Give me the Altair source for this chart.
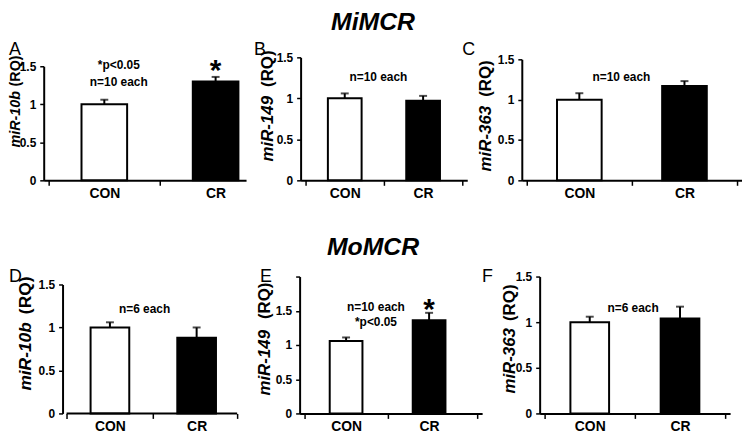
import altair as alt
import pandas as pd

# ---------------- data ----------------
groups = ["CON", "CR"]
group_pos = [0.5, 1.5]
panel_letters = ["A", "B", "C", "D", "E", "F"]
mirna_names = ["miR-10b", "miR-149", "miR-363", "miR-10b", "miR-149", "miR-363"]
con_mean = [1.00, 1.00, 1.00, 1.00, 1.06, 1.00]
con_sem = [0.06, 0.06, 0.08, 0.06, 0.05, 0.06]
cr_mean = [1.30, 0.97, 1.17, 0.88, 1.36, 1.04]
cr_sem = [0.06, 0.06, 0.06, 0.12, 0.11, 0.13]
notes = [["*p<0.05", "n=10 each"], ["n=10 each"], ["n=10 each"],
         ["n=6 each"], ["n=10 each", "*p<0.05"], ["n=6 each"]]
significant = [True, False, False, False, True, False]
y_max = [1.5, 1.5, 1.5, 1.5, 2.0, 1.5]
y_ticks = [[0, 0.5, 1, 1.5], [0, 0.5, 1, 1.5], [0, 0.5, 1, 1.5],
           [0, 0.5, 1, 1.5], [0, 0.5, 1, 1.5, 2], [0, 0.5, 1, 1.5]]
row_titles = ["MiMCR", "MoMCR"]

# ---------------- layout / styling ----------------
FONT = "Liberation Sans"
layout = [
    dict(w=204, x0=0, xmax=1.729, endtick=False, yoff=0, h=126, ytop=11, bw=46, lx=-35, ly=0, tx=-28, tb=93,
         tt=0, tfs=14.5, nx=0.63, ny=[1.51, 1.29], sdy=3),
    dict(w=168, x0=0, xmax=2.0, endtick=True, yoff=0, h=126, ytop=2, bw=34, lx=-47, ly=0, tx=-33, tb=107,
         tt=-5, tfs=17, nx=0.93, ny=[1.26], sdy=4, title=(73, -26)),
    dict(w=222, x0=0, xmax=2.0, endtick=True, yoff=0, h=126, ytop=4, bw=45, lx=-60, ly=0, tx=-36, tb=117,
         tt=5, tfs=17, nx=0.90, ny=[1.28], sdy=4),
    dict(w=200, x0=-0.2065, xmax=1.967, endtick=True, yoff=-19, h=140, ytop=10, bw=39, lx=-35, ly=7, tx=-18,
         tb=117, tt=2, tfs=17.5, nx=0.90, ny=[1.21], sdy=4),
    dict(w=184, x0=0, xmax=2.079, endtick=True, yoff=0, h=140, ytop=2, bw=33, lx=-40, ly=7, tx=-34.5, tb=122,
         tt=8, tfs=17, nx=0.86, ny=[1.55, 1.33], sdy=6, title=(74, -20)),
    dict(w=192, x0=0, xmax=2.0, endtick=True, yoff=0, h=140, ytop=2, bw=39, lx=-58, ly=7, tx=-30, tb=120,
         tt=10, tfs=17, nx=0.98, ny=[1.16], sdy=4),
]


def x_enc(field, L):
    vals = [v for v in [0, 0.5, 1, 1.5] if v < L["xmax"]]
    if L["endtick"]:
        vals = vals + [L["xmax"]]
    return alt.X(
        field,
        type="quantitative",
        title=None,
        scale=alt.Scale(domain=[L["x0"], L["xmax"]], nice=False, zero=False),
        axis=alt.Axis(
            values=vals,
            grid=False,
            domain=L["x0"] == 0,
            labelExpr="datum.value == 0.5 ? 'CON' : (datum.value == 1.5 ? 'CR' : '')",
            tickOpacity={"condition": {"test": "datum.value == 0.5 || datum.value == 1.5", "value": 0}, "value": 1},
            labelOverlap=False,
            labelFlush=False,
            domainColor="black", domainWidth=2,
            tickColor="black", tickWidth=1.5, tickSize=5,
            labelFont=FONT, labelFontSize=14, labelFontWeight="bold",
            labelColor="black", labelPadding=1,
        ),
    )


def y_enc(field, i, L):
    return alt.Y(
        field,
        type="quantitative",
        title=None,
        scale=alt.Scale(domain=[0, y_max[i]], range=[L["h"], L["ytop"]], nice=False, zero=True),
        axis=alt.Axis(
            values=y_ticks[i],
            format="~g",
            labelExpr="datum.value >= 2 ? '' : datum.label",
            grid=False,
            offset=L["yoff"],
            labelOverlap=False,
            labelFlush=False,
            domainColor="black", domainWidth=2,
            tickColor="black", tickWidth=1.5, tickSize=4,
            labelFont=FONT, labelFontSize=12, labelFontWeight="bold",
            labelColor="black", labelPadding=4,
        ),
    )


def panel(i, row_title=None):
    L = layout[i]
    df = pd.DataFrame({
        "group": groups,
        "pos": group_pos,
        "mean": [con_mean[i], cr_mean[i]],
        "sem": [con_sem[i], cr_sem[i]],
    })
    df["hi"] = df["mean"] + df["sem"]

    bars = alt.Chart(df).mark_bar(orient="vertical", size=L["bw"], stroke="black", strokeWidth=2).encode(
        x=x_enc("pos", L),
        y=y_enc("mean", i, L),
        fill=alt.Fill("group:N", scale=alt.Scale(domain=groups, range=["white", "black"]), legend=None),
    )
    err = alt.Chart(df).mark_rule(color="black", strokeWidth=2).encode(
        x=x_enc("pos", L), y=y_enc("mean", i, L), y2="hi:Q"
    )
    caps = alt.Chart(df).mark_tick(orient="horizontal", size=8, thickness=2, color="black").encode(
        x=x_enc("pos", L), y=y_enc("hi", i, L)
    )

    note_df = pd.DataFrame({"t": notes[i], "nx": [L["nx"]] * len(notes[i]), "ny": L["ny"]})
    note = alt.Chart(note_df).mark_text(font=FONT, fontSize=12, fontWeight="bold", color="black",
                                        align="center", baseline="middle").encode(
        x=x_enc("nx", L), y=y_enc("ny", i, L), text="t:N"
    )

    layers = [bars, err, caps, note]

    if L["x0"] != 0:
        # x-axis baseline starting at the y axis
        base_df = pd.DataFrame({"a": [0.0], "b": [L["xmax"]], "z": [0.0]})
        base = alt.Chart(base_df).mark_rule(color="black", strokeWidth=2).encode(
            x=x_enc("a", L), x2="b:Q", y=y_enc("z", i, L)
        )
        layers.append(base)

    if significant[i]:
        star_df = df[df["group"] == "CR"]
        star = alt.Chart(star_df).mark_text(text="*", font=FONT, fontSize=30, fontWeight="bold",
                                            color="black", align="center", baseline="alphabetic",
                                            dy=L["sdy"]).encode(
            x=x_enc("pos", L), y=y_enc("hi", i, L)
        )
        layers.append(star)

    lab_df = pd.DataFrame({"t": [panel_letters[i]]})
    letter = alt.Chart(lab_df).mark_text(font=FONT, fontSize=18, color="black", align="left",
                                         baseline="alphabetic").encode(
        text="t:N", x=alt.value(L["lx"]), y=alt.value(L["ly"])
    )
    t1_df = pd.DataFrame({"t": [mirna_names[i]]})
    t1 = alt.Chart(t1_df).mark_text(font=FONT, fontSize=L["tfs"], fontWeight="bold", fontStyle="italic",
                                    color="black", angle=270, align="left", baseline="middle").encode(
        text="t:N", x=alt.value(L["tx"]), y=alt.value(L["tb"])
    )
    t2_df = pd.DataFrame({"t": ["(RQ)"]})
    t2 = alt.Chart(t2_df).mark_text(font=FONT, fontSize=L["tfs"], fontWeight="bold",
                                    color="black", angle=270, align="right", baseline="middle").encode(
        text="t:N", x=alt.value(L["tx"]), y=alt.value(L["tt"])
    )
    layers += [letter, t1, t2]

    if row_title is not None:
        rt_df = pd.DataFrame({"t": [row_title]})
        rt = alt.Chart(rt_df).mark_text(font=FONT, fontSize=25, fontWeight="bold", fontStyle="italic",
                                        color="black", align="center", baseline="alphabetic").encode(
            text="t:N", x=alt.value(L["title"][0]), y=alt.value(L["title"][1])
        )
        layers.append(rt)

    return alt.layer(*layers).properties(width=L["w"], height=L["h"])


row1 = alt.hconcat(panel(0), panel(1, row_titles[0]), panel(2), spacing=55, bounds="flush")
row2 = alt.hconcat(panel(3), panel(4, row_titles[1]), panel(5), spacing=58, bounds="flush")

chart = alt.ConcatChart(
    concat=[row1, row2],
    columns=1,
    spacing=35,
    padding=0,
    background="white",
).configure_view(strokeWidth=0)

chart.save("out.html", embed_options={"renderer": "svg", "actions": False})
